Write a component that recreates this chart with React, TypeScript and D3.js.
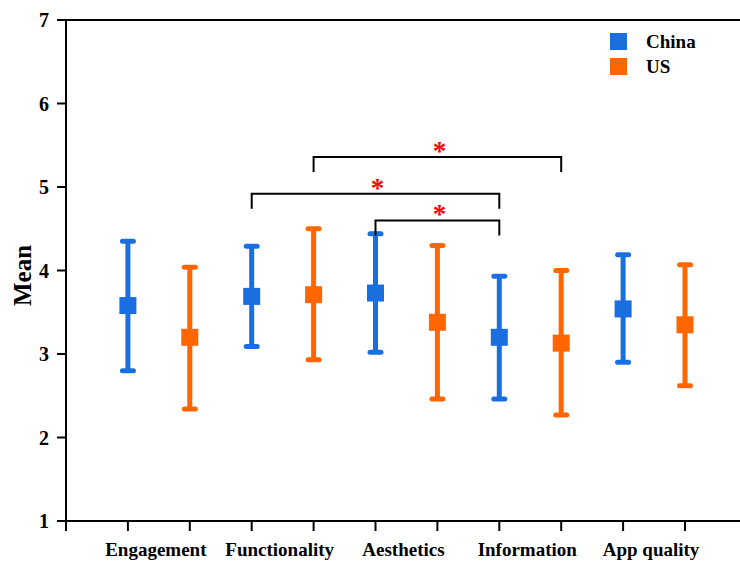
import { useEffect, useRef } from 'react';
import * as d3 from 'd3';

const categories = ['Engagement', 'Functionality', 'Aesthetics', 'Information', 'App quality'];
const countries = ['China', 'US'];
const chinaMean = [3.58, 3.69, 3.73, 3.2, 3.54];
const chinaLow = [2.8, 3.09, 3.02, 2.46, 2.9];
const chinaHigh = [4.35, 4.29, 4.44, 3.93, 4.19];
const usMean = [3.2, 3.71, 3.38, 3.13, 3.35];
const usLow = [2.34, 2.93, 2.46, 2.27, 2.62];
const usHigh = [4.04, 4.5, 4.3, 4.0, 4.07];
const yTicks = [1, 2, 3, 4, 5, 6, 7];

// significance brackets: [category, country] -> [category, country] at level
const comparisons = [
  { fromCat: 1, fromSeries: 1, toCat: 3, toSeries: 1, level: 5.36 },
  { fromCat: 1, fromSeries: 0, toCat: 3, toSeries: 0, level: 4.92 },
  { fromCat: 2, fromSeries: 0, toCat: 3, toSeries: 0, level: 4.6 },
];

const COLORS = ['#1a6fe0', '#ff6600'];
const FONT = '"Liberation Serif", "Times New Roman", serif';

export default function App() {
  const svgRef = useRef<SVGSVGElement | null>(null);

  useEffect(() => {
    if (!svgRef.current) return;
    const svg = d3.select(svgRef.current);
    svg.selectAll('*').remove();

    const W = 740;
    const H = 563;
    svg.attr('width', W).attr('height', H).style('font-family', FONT);

    const x0 = 66;
    const xScale = d3.scaleLinear().domain([0, 10]).range([x0, 685]);
    const yScale = d3.scaleLinear().domain([1, 7]).range([521, 20]);
    const slot = (cat: number, s: number) => xScale(cat * 2 + s + 1);

    const series = [
      { name: countries[0], mean: chinaMean, low: chinaLow, high: chinaHigh },
      { name: countries[1], mean: usMean, low: usLow, high: usHigh },
    ];

    // Axes
    const g = svg.append('g');
    g.append('line')
      .attr('x1', x0).attr('x2', x0)
      .attr('y1', yScale(7)).attr('y2', yScale(1) + 10)
      .attr('stroke', '#000').attr('stroke-width', 2);
    g.append('line')
      .attr('x1', x0 - 1).attr('x2', W)
      .attr('y1', yScale(7)).attr('y2', yScale(7))
      .attr('stroke', '#000').attr('stroke-width', 2);
    g.append('line')
      .attr('x1', x0 - 9).attr('x2', W)
      .attr('y1', yScale(1)).attr('y2', yScale(1))
      .attr('stroke', '#000').attr('stroke-width', 2);

    g.selectAll('.ytick')
      .data(yTicks)
      .enter()
      .append('line')
      .attr('x1', x0 - 9).attr('x2', x0)
      .attr('y1', (d) => yScale(d)).attr('y2', (d) => yScale(d))
      .attr('stroke', '#000').attr('stroke-width', 2);

    g.selectAll('.ylabel')
      .data(yTicks)
      .enter()
      .append('text')
      .attr('x', x0 - 17)
      .attr('y', (d) => yScale(d) + 7)
      .attr('text-anchor', 'end')
      .style('font-size', '20px')
      .style('font-weight', 'bold')
      .text((d) => String(d));

    g.selectAll('.xtick')
      .data(d3.range(1, 11))
      .enter()
      .append('line')
      .attr('x1', (d) => xScale(d)).attr('x2', (d) => xScale(d))
      .attr('y1', yScale(1)).attr('y2', yScale(1) + 10)
      .attr('stroke', '#000').attr('stroke-width', 2);

    g.selectAll('.xlabel')
      .data(categories)
      .enter()
      .append('text')
      .attr('x', (_d, i) => xScale(i * 2 + 1.5) - 3)
      .attr('y', 556)
      .attr('text-anchor', 'middle')
      .style('font-size', '19px')
      .style('font-weight', 'bold')
      .text((d) => d);

    svg.append('text')
      .attr('transform', `translate(31,${(yScale(7) + yScale(1)) / 2 + 5}) rotate(-90)`)
      .attr('text-anchor', 'middle')
      .style('font-size', '25px')
      .style('font-weight', 'bold')
      .text('Mean');

    // Error bars + means
    series.forEach((s, si) => {
      const sg = svg.append('g');
      categories.forEach((_c, ci) => {
        const cx = slot(ci, si);
        sg.append('line')
          .attr('x1', cx).attr('x2', cx)
          .attr('y1', yScale(s.low[ci])).attr('y2', yScale(s.high[ci]))
          .attr('stroke', COLORS[si]).attr('stroke-width', 5);
        [s.low[ci], s.high[ci]].forEach((v) => {
          sg.append('line')
            .attr('x1', cx - 5.5).attr('x2', cx + 5.5)
            .attr('y1', yScale(v)).attr('y2', yScale(v))
            .attr('stroke', COLORS[si]).attr('stroke-width', 5)
            .attr('stroke-linecap', 'round');
        });
        sg.append('rect')
          .attr('x', cx - 8.5).attr('y', yScale(s.mean[ci]) - 8.5)
          .attr('width', 17).attr('height', 17)
          .attr('fill', COLORS[si]);
      });
    });

    // Significance brackets
    const legLen = 15;
    comparisons.forEach((c) => {
      const xa = slot(c.fromCat, c.fromSeries);
      const xb = slot(c.toCat, c.toSeries);
      const yy = yScale(c.level);
      svg.append('path')
        .attr('d', `M${xa},${yy + legLen}V${yy}H${xb}V${yy + legLen}`)
        .attr('fill', 'none')
        .attr('stroke', '#000')
        .attr('stroke-width', 2);
      svg.append('text')
        .attr('x', (xa + xb) / 2 + 2)
        .attr('y', yy + 3)
        .attr('text-anchor', 'middle')
        .attr('fill', '#ff0000')
        .style('font-size', '27px')
        .style('font-weight', 'bold')
        .text('*');
    });

    // Legend
    const lg = svg.append('g').attr('transform', 'translate(610,33)');
    countries.forEach((name, i) => {
      lg.append('rect')
        .attr('x', 0).attr('y', i * 25)
        .attr('width', 17).attr('height', 17)
        .attr('fill', COLORS[i]);
      lg.append('text')
        .attr('x', 36).attr('y', i * 25 + 15)
        .style('font-size', '19px')
        .style('font-weight', 'bold')
        .text(name);
    });
  }, []);

  return (
    <div style={{ position: 'absolute', left: 0, top: 0, background: '#fff' }}>
      <svg ref={svgRef} style={{ display: 'block' }} />
    </div>
  );
}
